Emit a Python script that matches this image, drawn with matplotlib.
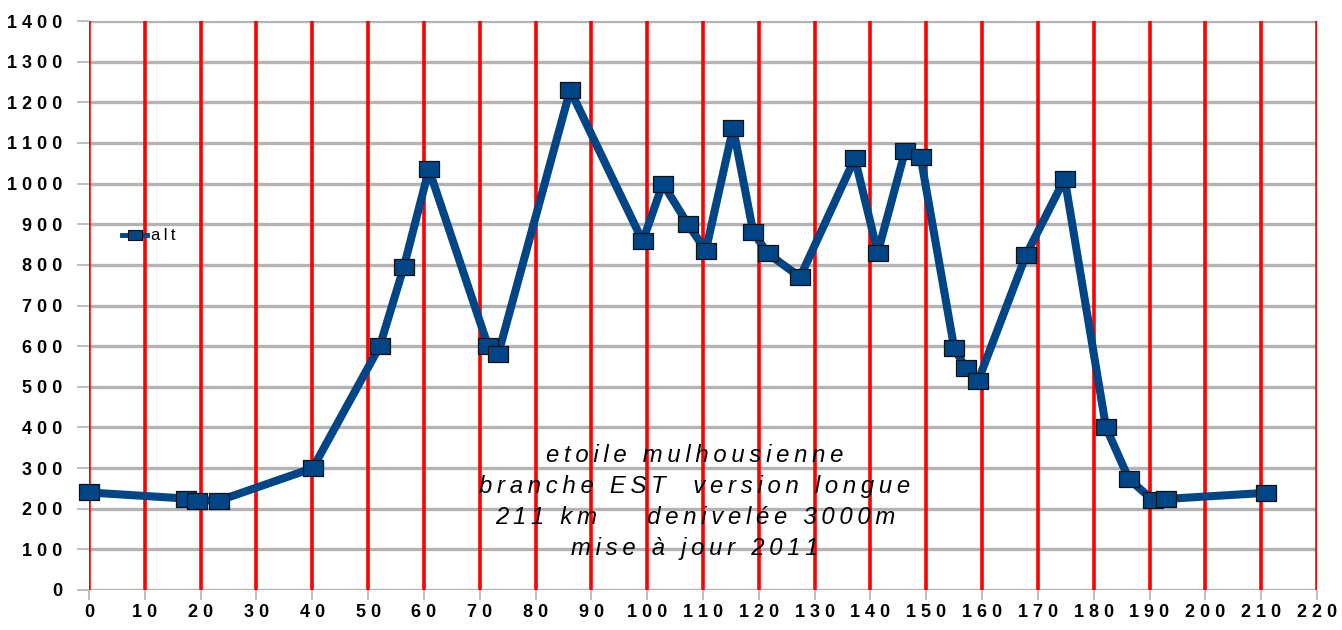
import matplotlib.pyplot as plt
from matplotlib.lines import Line2D

km = [0, 17.4, 19.3, 23.3, 40.1, 52.1, 56.4, 60.9, 71.5, 73.3, 86.2, 99.2, 102.8,
      107.3, 110.5, 115.4, 119.0, 121.6, 127.4, 137.2, 141.3, 146.2, 149.0, 155.0,
      157.1, 159.3, 167.9, 174.8, 182.2, 186.3, 190.6, 192.9, 210.8]
alt = [240, 225, 220, 220, 300, 600, 795, 1035, 600, 580, 1230, 858, 1000,
       900, 835, 1137, 880, 828, 770, 1062, 830, 1080, 1065, 595,
       545, 515, 825, 1012, 400, 273, 221, 224, 239]

x_ticks = list(range(0, 221, 10))
y_ticks = list(range(0, 1401, 100))
title_lines = ["etoile mulhousienne",
               "branche EST  version longue",
               "211 km    denivelée 3000m",
               "mise à jour 2011"]

FAM = ['Liberation Sans', 'DejaVu Sans']
TS = '\u2009'


def spaced(s, sep=TS):
    return sep.join(s)


blue = '#004586'
rect = [(-1.3, -1), (1.3, -1), (1.3, 1), (-1.3, 1), (-1.3, -1)]

fig = plt.figure(figsize=(13.42, 6.3), dpi=100)
ax = fig.add_axes([89/1342, 40/630, 1228/1342, 569/630])

ax.set_xlim(0, 220)
ax.set_ylim(0, 1400)

for y in y_ticks:
    ax.axhline(y, color='#b3b3b3', lw=2.4, zorder=1)
for x in x_ticks:
    ax.axvline(x, color='#ff0000', lw=2.6, zorder=2)

ax.plot(km, alt, color=blue, lw=5.8, marker=rect, ms=14.5, mfc=blue,
        mec='#111111', mew=0.9, zorder=5, clip_on=False)

for s in ax.spines.values():
    s.set_visible(False)

ax.set_xticks(x_ticks)
ax.set_xticklabels([spaced(str(v), ' ') for v in x_ticks])
ax.set_yticks(y_ticks)
ax.set_yticklabels([spaced(str(v), ' ') for v in y_ticks])
ax.tick_params(axis='x', length=7, width=1.2, color='#b3b3b3', pad=3)
ax.tick_params(axis='y', length=9, width=1.2, color='#b3b3b3', pad=10)
for lab in ax.get_xticklabels() + ax.get_yticklabels():
    lab.set_fontfamily(FAM)
    lab.set_fontweight('bold')
    lab.set_fontsize(13)

ys = [455, 486, 518, 548]
for line, yp in zip(title_lines, ys):
    fig.text(695/1342, 1 - yp/630, spaced(line), ha='center', va='center',
             fontsize=17.2, style='italic', family=FAM)

h = Line2D([0], [0], color=blue, lw=3.5, marker=rect, ms=10, mfc=blue, mec='#111111', mew=0.8)
ax.legend([h], [spaced('alt')], loc='center left', bbox_to_anchor=(114/1342, 1 - 236/630),
          bbox_transform=fig.transFigure, frameon=False, handlelength=1.5,
          handletextpad=0.2, borderpad=0, prop={'family': FAM, 'size': 12})

fig.savefig('out.png', dpi=100)
